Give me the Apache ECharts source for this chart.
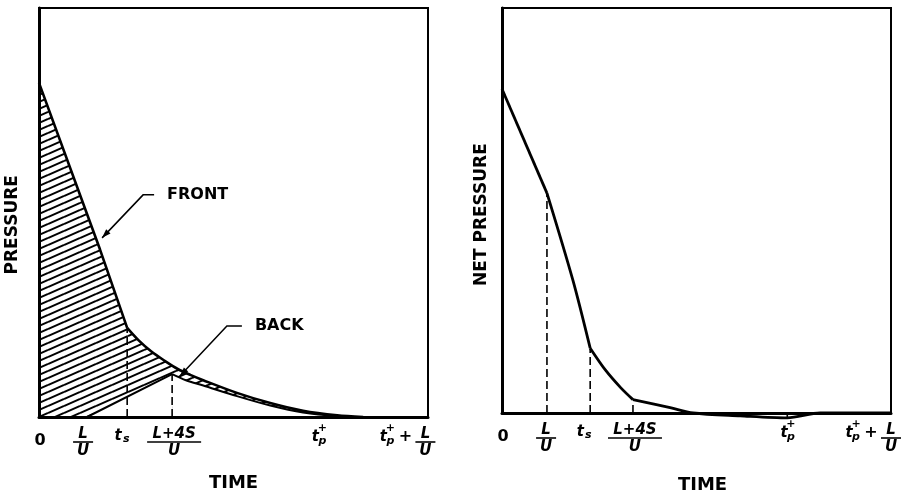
<!DOCTYPE html>
<html><head><meta charset="utf-8">
<script src="https://cdn.jsdelivr.net/npm/echarts@6/dist/echarts.min.js"></script>
<style>html,body{margin:0;padding:0;background:#fff}#c{width:911px;height:496px}</style>
</head><body><div id="c"></div>
<script>
// ---- data (time units, pressure units), split at the corners of each curve ----
// left panel: FRONT pressure
const frontT1 = [0, 1.41, 2.04];
const frontP1 = [8.17, 4.10, 2.18];
const frontT2 = [2.04, 2.30, 2.60, 2.90, 3.20, 3.50, 3.80, 4.58, 5.35, 6.11, 6.90, 7.50];
const frontP2 = [2.18, 1.88, 1.60, 1.38, 1.18, 1.03, 0.90, 0.59, 0.34, 0.15, 0.04, 0];
// left panel: BACK pressure
const backT1 = [0, 1.11, 3.08];
const backP1 = [0, 0, 1.05];
const backT2 = [3.08, 3.40, 3.80, 4.58, 5.35, 6.11, 6.90, 7.50];
const backP2 = [1.05, 0.90, 0.77, 0.51, 0.28, 0.11, 0.02, 0];
// right panel: NET pressure
const netT1 = [0, 1.04];
const netP1 = [8.0, 5.43];
const netT2 = [1.04, 1.64, 2.04];
const netP2 = [5.43, 3.28, 1.60];
const netT3 = [2.04, 2.40, 2.75, 3.03];
const netP3 = [1.60, 1.05, 0.62, 0.33];
const netT4 = [3.03, 3.89, 4.42, 5.51, 6.60, 7.36, 9.0];
const netP4 = [0.33, 0.13, 0, -0.07, -0.12, 0, 0];
// tick labels: 0, L/U, t_s, (L+4S)/U, t_p+, t_p+ + L/U
const tickKinds  = ['zero', 'LU', 'ts', 'L4S', 'tp', 'tpLU'];
const leftTickT  = [0, 1.02, 2.04, 3.08, 6.44, 8.94];
const rightTickT = [0, 1.02, 2.02, 3.03, 6.57, 9.0];
// dashed verticals
const leftDashT = [2.04, 3.08], leftDashLo = [0, 0], leftDashHi = [2.18, 1.05];
const rightDashT = [1.04, 2.04, 3.03, 6.60], rightDashLo = [0, 0, 0, -0.12], rightDashHi = [5.43, 1.60, 0.2, 0];
const axisTitles = ['PRESSURE', 'NET PRESSURE'];
const xTitle = 'TIME';

const zip = (a, b) => a.map((v, i) => [v, b[i]]);

function hatch() {
  const c = document.createElement('canvas');
  const W = 16, H = 7;
  c.width = W; c.height = H;
  const g = c.getContext('2d');
  g.strokeStyle = '#000'; g.lineWidth = 2;
  for (let n = 0; n <= 2; n++) {
    g.beginPath(); g.moveTo(0, n * H); g.lineTo(W, n * H - H); g.stroke();
  }
  return c;
}
const hatchPattern = {image: hatch(), repeat: 'repeat'};

const chart = echarts.init(document.getElementById('c'), null, {renderer: 'canvas'});
const axisCommon = {
  type: 'value', axisLine: {show: true, lineStyle: {color: '#000', width: 3}},
  axisTick: {show: false}, axisLabel: {show: false}, splitLine: {show: false}, z: 10
};
function seg(gi, T, Pv, smooth, z, line, area) {
  const s = {type: 'line', xAxisIndex: gi, yAxisIndex: gi, data: zip(T, Pv), symbol: 'none',
    silent: true, z: z, clip: false, smooth: smooth ? 0.3 : false,
    lineStyle: line || {width: 0, opacity: 0}};
  if (area) s.areaStyle = area;
  return s;
}
const dashSeries = (gi, T, lo, hi) => T.map((t, i) => ({
  type: 'line', xAxisIndex: gi, yAxisIndex: gi, data: [[t, lo[i]], [t, hi[i]]],
  symbol: 'none', silent: true, clip: false, z: 5,
  lineStyle: {color: '#000', width: 1.6, type: [8, 4]}
}));
const frontLine = {color: '#000', width: 2.6};
const backLine = {color: '#000', width: 2};
const netLine = {color: '#000', width: 2.8};

const option = {
  animation: false,
  backgroundColor: '#fff',
  grid: [
    {left: 39, top: 8, width: 389, height: 409, show: true, borderColor: '#000', borderWidth: 2},
    {left: 502, top: 8, width: 389, height: 405, show: true, borderColor: '#000', borderWidth: 2}
  ],
  xAxis: [
    Object.assign({gridIndex: 0, min: 0, max: 9}, axisCommon),
    Object.assign({gridIndex: 1, min: 0, max: 9}, axisCommon)
  ],
  yAxis: [
    Object.assign({gridIndex: 0, min: 0, max: 10}, axisCommon),
    Object.assign({gridIndex: 1, min: 0, max: 10}, axisCommon)
  ],
  series: [
    seg(0, frontT1, frontP1, false, 2, null, {color: hatchPattern, opacity: 1}),
    seg(0, frontT2, frontP2, true, 2, null, {color: hatchPattern, opacity: 1}),
    seg(0, backT1, backP1, false, 3, backLine, {color: '#fff', opacity: 1}),
    seg(0, backT2, backP2, true, 3, backLine, {color: '#fff', opacity: 1}),
    seg(0, frontT1, frontP1, false, 4, frontLine),
    seg(0, frontT2, frontP2, true, 4, frontLine),
    seg(1, netT1, netP1, false, 4, netLine),
    seg(1, netT2, netP2, true, 4, netLine),
    seg(1, netT3, netP3, true, 4, netLine),
    seg(1, netT4, netP4, true, 4, netLine)
  ].concat(dashSeries(0, leftDashT, leftDashLo, leftDashHi), dashSeries(1, rightDashT, rightDashLo, rightDashHi))
};
chart.setOption(option);

// ---- text / annotations anchored to the axes ----
const P = (gi, t, v) => chart.convertToPixel({gridIndex: gi}, [t, v]);
const BOLD = 'bold 16px "DejaVu Sans"';
const MATH = 'italic bold 15px "DejaVu Sans"';
const SMALL = 'italic bold 11px "DejaVu Sans"';
const els = [];
function txt(x, y, s, font, align, rot) {
  const e = {type: 'text', x: x, y: y, z: 20, silent: true,
    style: {text: s, font: font, fill: '#000', align: align || 'center', verticalAlign: 'middle',
            textAlign: align || 'center', textVerticalAlign: 'middle'}};
  if (rot) e.rotation = rot;
  els.push(e);
}
function bar(x, y, w) {
  els.push({type: 'line', z: 20, silent: true, shape: {x1: x - w / 2, y1: y, x2: x + w / 2, y2: y},
    style: {stroke: '#000', lineWidth: 1.6}});
}
function frac(x, y0, num, den, w) {
  txt(x, y0 + 17, num, MATH); bar(x, y0 + 25, w); txt(x, y0 + 34, den, MATH);
}
function tplus(x, y) {
  txt(x - 2, y, 't', MATH); txt(x + 5, y - 9, '+', 'bold 11px "DejaVu Sans"'); txt(x + 5, y + 4, 'p', SMALL);
}
function tickLabels(gi, T) {
  T.forEach((t, i) => {
    const p = P(gi, t, 0); const x = p[0], y0 = p[1];
    switch (tickKinds[i]) {
      case 'zero': txt(x + 1, y0 + 24, '0', BOLD); break;
      case 'LU': frac(x, y0, 'L', 'U', 20); break;
      case 'ts': txt(x - 9, y0 + 19, 't', MATH); txt(x - 1, y0 + 22, 's', SMALL); break;
      case 'L4S': frac(x + 2, y0, 'L+4S', 'U', 54); break;
      case 'tp': tplus(x, y0 + 20); break;
      case 'tpLU': tplus(x - 40, y0 + 20); txt(x - 20, y0 + 20, '+', 'bold 16px "DejaVu Sans"'); frac(x, y0, 'L', 'U', 20); break;
    }
  });
}
tickLabels(0, leftTickT);
tickLabels(1, rightTickT);

const lc = P(0, 4.5, 0), rc = P(1, 4.5, 0);
txt(lc[0], lc[1] + 66, xTitle, 'bold 18px "DejaVu Sans"');
txt(rc[0] + 6, rc[1] + 72, xTitle, 'bold 18px "DejaVu Sans"');
const ly = P(0, 0, 4.7), ry = P(1, 0, 4.9);
txt(ly[0] - 26, ly[1], axisTitles[0], 'bold 17px "DejaVu Sans"', 'center', Math.PI / 2);
txt(ry[0] - 20, ry[1], axisTitles[1], 'bold 17px "DejaVu Sans"', 'center', Math.PI / 2);

function leader(gi, tip, elbowOff, endDx, label) {
  const a = P(gi, tip[0], tip[1]);
  const e = [a[0] + elbowOff[0], a[1] + elbowOff[1]];
  const f = [e[0] + endDx, e[1]];
  els.push({type: 'polyline', z: 20, silent: true, shape: {points: [f, e, a]}, style: {stroke: '#000', lineWidth: 1.5, fill: null}});
  const dx = a[0] - e[0], dy = a[1] - e[1], L = Math.hypot(dx, dy), ux = dx / L, uy = dy / L;
  const bx = a[0] - ux * 9, by = a[1] - uy * 9;
  els.push({type: 'polygon', z: 21, silent: true, shape: {points: [a, [bx - uy * 3, by + ux * 3], [bx + uy * 3, by - ux * 3]]}, style: {fill: '#000'}});
  txt(f[0] + 13, f[1], label, BOLD, 'left');
}
leader(0, [1.46, 4.38], [41, -43], 11, 'FRONT');
leader(0, [3.26, 1.0], [47, -50], 15, 'BACK');

chart.setOption({graphic: {elements: els}});
</script></body></html>
